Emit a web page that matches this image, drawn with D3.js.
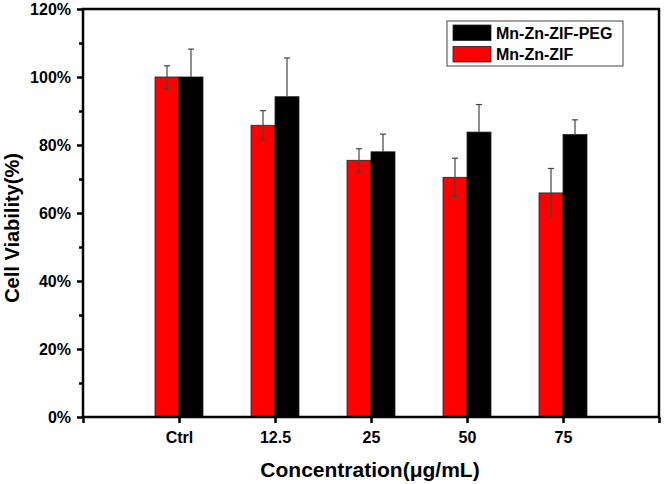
<!DOCTYPE html>
<html><head><meta charset="utf-8">
<script src="https://cdn.jsdelivr.net/npm/d3@7"></script>
<style>body{margin:0;background:#fff}text{font-family:"Liberation Sans",Arial,sans-serif;font-weight:bold}</style>
</head><body><svg id="c" width="666" height="484"></svg>
<script>
const categories = ["Ctrl","12.5","25","50","75"];
const seriesNames = ["Mn-Zn-ZIF","Mn-Zn-ZIF-PEG"];
const zifValues = [100, 85.8, 75.5, 70.5, 65.9];
const zifErrors = [3.3, 4.3, 3.4, 5.6, 7.2];
const pegValues = [100, 94.2, 78.0, 83.8, 83.1];
const pegErrors = [8.2, 11.4, 5.2, 8.1, 4.3];
const yTicks = [0, 20, 40, 60, 80, 100, 120];
const colors = ["#ff0000", "#000000"];

const svg = d3.select("#c");
const L = 83, R = 659, T = 9, B = 417;
const x = d3.scaleLinear().domain([0, categories.length + 1]).range([L, R]);
const y = d3.scaleLinear().domain([0, 120]).range([B, T]);
const bw = 24;

const series = [
  {name: seriesNames[0], vals: zifValues, errs: zifErrors, color: colors[0], off: -bw},
  {name: seriesNames[1], vals: pegValues, errs: pegErrors, color: colors[1], off: 0}
];

series.forEach(s => {
  const g = svg.append("g");
  g.selectAll("rect").data(s.vals).join("rect")
    .attr("x", (d, i) => x(i + 1) + s.off)
    .attr("y", d => y(d))
    .attr("width", bw)
    .attr("height", d => y(0) - y(d))
    .attr("fill", s.color)
    .attr("stroke", "#222").attr("stroke-width", 0.8);
  const eb = svg.append("g").attr("stroke", "#444").attr("stroke-width", 1.2);
  s.vals.forEach((v, i) => {
    const cx = x(i + 1) + s.off + bw / 2;
    const lo = s.color === "#000000" ? v : v - s.errs[i];
    eb.append("line").attr("x1", cx).attr("x2", cx).attr("y1", y(lo)).attr("y2", y(v + s.errs[i]));
    eb.append("line").attr("x1", cx - 3).attr("x2", cx + 3).attr("y1", y(v + s.errs[i])).attr("y2", y(v + s.errs[i]));
    if (s.color !== "#000000")
      eb.append("line").attr("x1", cx - 3).attr("x2", cx + 3).attr("y1", y(v - s.errs[i])).attr("y2", y(v - s.errs[i]));
  });
});

// frame
svg.append("rect").attr("x", L).attr("y", T).attr("width", R - L).attr("height", B - T)
  .attr("fill", "none").attr("stroke", "#000").attr("stroke-width", 2.5);

// y axis
const yAxis = d3.axisLeft(y).tickValues(yTicks).tickFormat(d => d + "%").tickSize(6).tickPadding(6);
const ga = svg.append("g").attr("transform", `translate(${L},0)`).call(yAxis);
ga.select(".domain").remove();
ga.selectAll("line").attr("stroke-width", 2.5);
ga.selectAll("text").attr("font-size", 16).attr("font-weight", "bold").attr("fill", "#000").attr("font-family", "Liberation Sans, Arial, sans-serif");
const gm = svg.append("g").attr("transform", `translate(${L},0)`)
  .call(d3.axisLeft(y).tickValues(d3.range(10, 120, 20)).tickSize(4).tickFormat(""));
gm.select(".domain").remove();
gm.selectAll("line").attr("stroke-width", 2.5);

// x axis
const xt = d3.range(0, categories.length + 2);
const gx = svg.append("g").attr("transform", `translate(0,${B})`)
  .call(d3.axisBottom(x).tickValues(xt).tickSize(6).tickPadding(9)
    .tickFormat(d => (d >= 1 && d <= categories.length) ? categories[d - 1] : ""));
gx.select(".domain").remove();
gx.selectAll("line").attr("stroke-width", 2.5);
gx.selectAll("text").attr("font-size", 16).attr("font-weight", "bold").attr("fill", "#000").attr("font-family", "Liberation Sans, Arial, sans-serif");

// titles
svg.append("text").attr("x", 370).attr("y", 477).attr("text-anchor", "middle")
  .attr("font-size", 21).text("Concentration(μg/mL)");
svg.append("text").attr("transform", "translate(19,228) rotate(-90)").attr("text-anchor", "middle")
  .attr("font-size", 20).text("Cell Viability(%)");

// legend
const lg = svg.append("g");
lg.append("rect").attr("x", 447).attr("y", 21).attr("width", 176).attr("height", 45)
  .attr("fill", "#fff").attr("stroke", "#444").attr("stroke-width", 1);
[series[1], series[0]].forEach((s, i) => {
  lg.append("rect").attr("x", 453).attr("y", 25 + i * 21.5).attr("width", 38).attr("height", 15.5)
    .attr("fill", s.color).attr("stroke", "#222").attr("stroke-width", 0.8);
  lg.append("text").attr("x", 496).attr("y", 38.5 + i * 21.5).attr("font-size", 16).text(s.name);
});
</script></body></html>
